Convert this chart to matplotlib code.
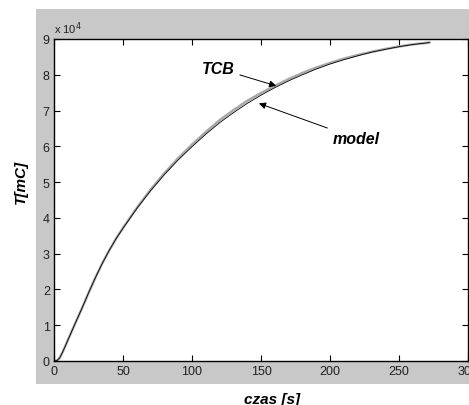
import numpy as np
import matplotlib
matplotlib.use('Agg')
import matplotlib.pyplot as plt
from matplotlib.patches import Rectangle
from matplotlib.ticker import FuncFormatter

# dane (czas [s], T [mC])
czas = [0, 2, 4, 6, 8, 10, 15, 20, 25, 30, 35, 40, 45, 50, 60, 70, 80, 90,
        100, 110, 120, 130, 140, 150, 160, 170, 180, 190, 200, 210, 220,
        230, 240, 250, 260, 272]
tcb = [0, 100, 800, 2300, 4000, 5800, 10200, 14500, 19000, 23300, 27300,
       30900, 34200, 37200, 42800, 47900, 52500, 56700, 60500, 64000, 67300,
       70100, 72700, 74900, 76900, 78800, 80500, 82000, 83300, 84500, 85500,
       86400, 87200, 87900, 88500, 89000]
model = [0, 100, 800, 2300, 4000, 5800, 10200, 14500, 19000, 23300, 27300,
         30900, 34200, 37100, 42600, 47600, 52100, 56200, 59900, 63400,
         66600, 69400, 72000, 74300, 76400, 78300, 80000, 81600, 83000,
         84200, 85300, 86300, 87100, 87850, 88450, 89000]

xticks = [0, 50, 100, 150, 200, 250, 300]
yticks = [0, 10000, 20000, 30000, 40000, 50000, 60000, 70000, 80000, 90000]

plt.rcParams['font.family'] = ['Liberation Sans', 'DejaVu Sans']

fig = plt.figure(figsize=(4.69, 4.06), dpi=100)
# szare tlo jak w matlabie
fig.patches.append(Rectangle((36 / 469, 1 - 385 / 406), 1.0, (385 - 10) / 406,
                             transform=fig.transFigure, facecolor='#c8c8c8',
                             edgecolor='none', zorder=-10))

ax = fig.add_axes([54 / 469, 1 - 362 / 406, (468 - 54) / 469, (362 - 40) / 406])
ax.set_facecolor('white')

ax.plot(czas, tcb, color='#a8a8a8', lw=1.8)
ax.plot(czas, model, color='black', lw=0.6)

ax.set_xlim(0, 300)
ax.set_ylim(0, 90000)
ax.set_xticks(xticks)
ax.set_yticks(yticks)
ax.yaxis.set_major_formatter(FuncFormatter(lambda v, p: '%d' % round(v / 1e4)))
ax.tick_params(direction='in', top=True, right=True, length=4, labelsize=9,
               labelcolor='#202020', pad=3)
for s in ax.spines.values():
    s.set_linewidth(1.0)

ax.text(0.0, 1.01, 'x 10$^4$', transform=ax.transAxes, fontsize=8,
        color='#202020', ha='left', va='bottom')

ax.annotate('TCB', xy=(161, 76900), xytext=(107, 81800),
            fontsize=11.5, fontweight='bold', fontstyle='italic',
            va='center', ha='left',
            arrowprops=dict(arrowstyle='-|>', color='black', lw=0.7,
                            mutation_scale=10, shrinkA=2, shrinkB=0))
ax.annotate('model', xy=(148.5, 72000), xytext=(202, 62200),
            fontsize=11.5, fontweight='bold', fontstyle='italic',
            va='center', ha='left',
            arrowprops=dict(arrowstyle='-|>', color='black', lw=0.7,
                            mutation_scale=10, shrinkA=2, shrinkB=0))

fig.text(21 / 469, 1 - 182 / 406, 'T[mC]', rotation=90, fontsize=11,
         fontweight='bold', fontstyle='italic', ha='center', va='center')
fig.text(272 / 469, 1 - 400 / 406, 'czas [s]', fontsize=11,
         fontweight='bold', fontstyle='italic', ha='center', va='center')

fig.savefig('out.png', dpi=100)
